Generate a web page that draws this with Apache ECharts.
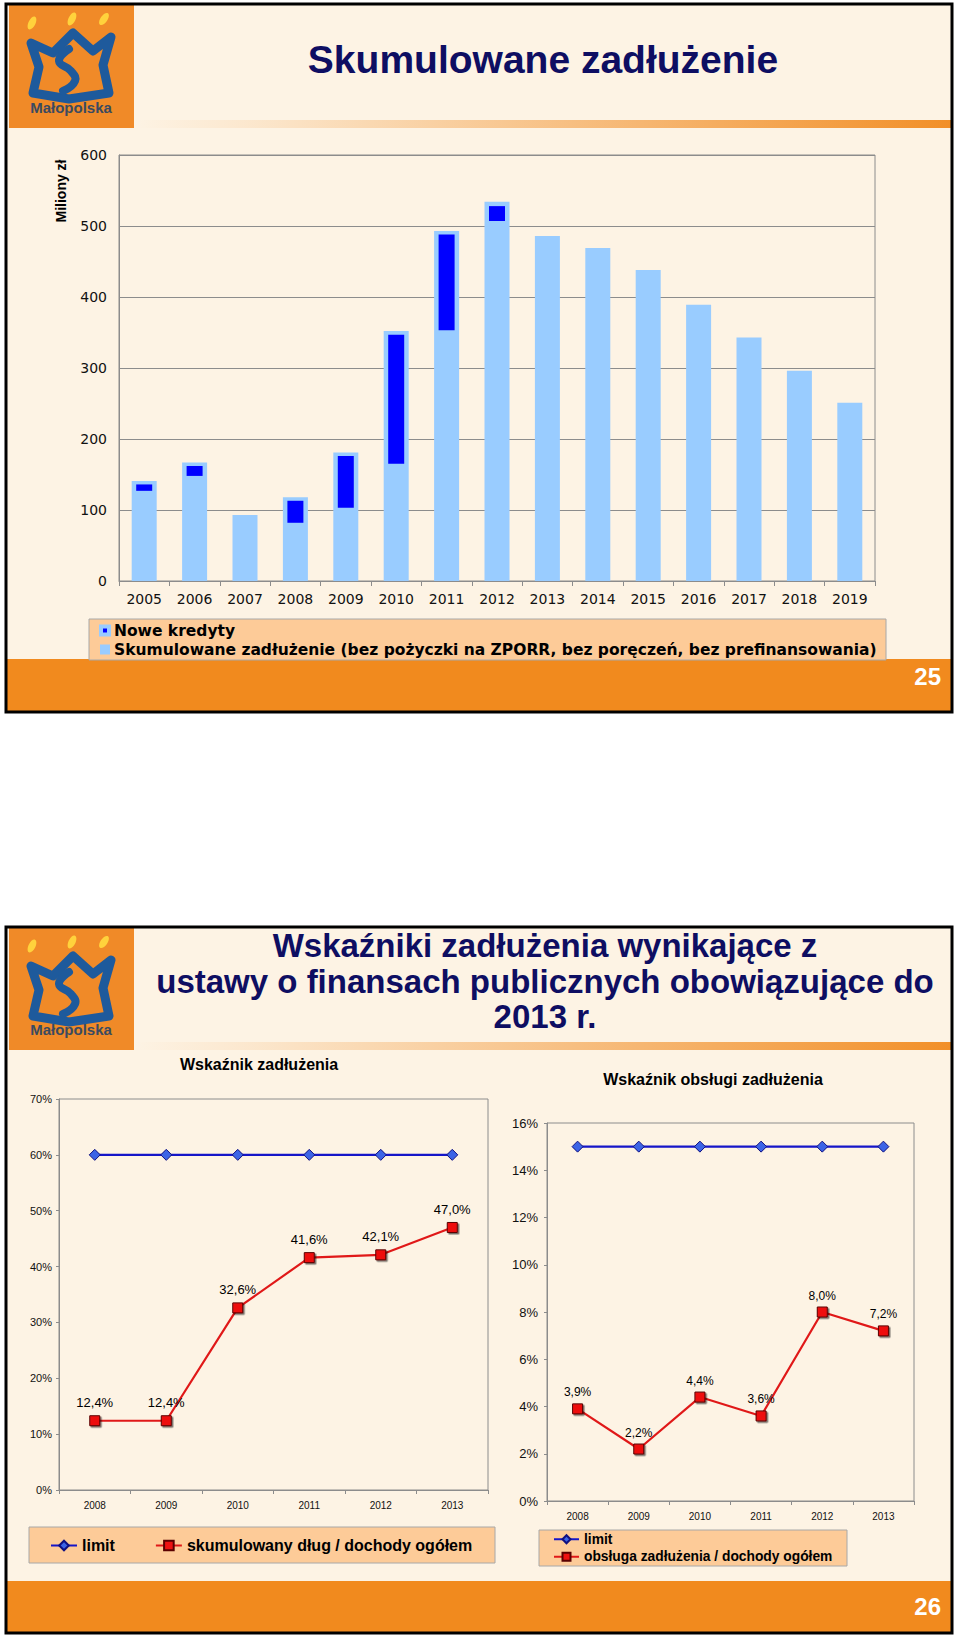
<!DOCTYPE html>
<html><head><meta charset="utf-8">
<script src="https://cdn.jsdelivr.net/npm/echarts/dist/echarts.min.js"></script>
<style>html,body{margin:0;padding:0;background:#fff;}#main{width:960px;height:1641px;}</style>
</head><body><div id="main"></div>
<script>
// ---------- data ----------
const lata = ['2005','2006','2007','2008','2009','2010','2011','2012','2013','2014','2015','2016','2017','2018','2019'];
const skumulowaneZadluzenie = [141,167,93,118,181,352,493,534,486,469,438,389,343,296,251];
const noweKredytyOd = [127,148,null,82,103,165,353,507,null,null,null,null,null,null,null];
const noweKredytyDo = [136,162,null,113,176,347,488,528,null,null,null,null,null,null,null];
const osMilionyTicks = [0,100,200,300,400,500,600];

const lataWskaznikow = ['2008','2009','2010','2011','2012','2013'];
const limitZadluzenia = [60,60,60,60,60,60];
const dlugDoDochodow = [12.4,12.4,32.6,41.6,42.1,47.0];
const osZadluzeniaTicks = [0,10,20,30,40,50,60,70];

const limitObslugi = [15,15,15,15,15,15];
const obslugaDoDochodow = [3.9,2.2,4.4,3.6,8.0,7.2];
const osObslugiTicks = [0,2,4,6,8,10,12,14,16];

const nazwaSkum = 'Skumulowane zadłużenie (bez pożyczki na ZPORR, bez poręczeń, bez prefinansowania)';
const nazwaNowe = 'Nowe kredyty';
const nazwaDlug = 'skumulowany dług / dochody ogółem';
const nazwaObsl = 'obsługa zadłużenia / dochody ogółem';

// ---------- style ----------
const CREAM = '#FDF3E4', ORANGE = '#F18A1E', NAVY = '#0E0E62', PEACH = '#FDCB98';
const GRAY = '#8C8C8C';
const ARIAL = '"Liberation Sans", Arial, sans-serif';
const VERD = '"DejaVu Sans", Verdana, sans-serif';

const chart = echarts.init(document.getElementById('main'), null, {renderer: 'svg'});

function logo(x0, y0, h) {
  return [
    {type:'rect', z:1, shape:{x:x0, y:y0, width:125, height:h}, style:{fill:'#F08A28'}},
    {type:'ellipse', z:2, x:x0+23, y:y0+18, rotation:-0.45, shape:{cx:0, cy:0, rx:3.5, ry:7}, style:{fill:'#FFD23C'}},
    {type:'ellipse', z:2, x:x0+63, y:y0+14, rotation:-0.45, shape:{cx:0, cy:0, rx:3.5, ry:7}, style:{fill:'#FFD23C'}},
    {type:'ellipse', z:2, x:x0+95, y:y0+14, rotation:-0.6, shape:{cx:0, cy:0, rx:3.5, ry:7}, style:{fill:'#FFD23C'}},
    {type:'polygon', z:2, x:x0, y:y0, shape:{points:[[22,38],[30,62],[24,88],[60,94],[100,88],[94,60],[102,32],[84,46],[64,28],[44,48]]},
      style:{fill:'none', stroke:'#1E5A9C', lineWidth:9, lineJoin:'round'}},
    {type:'polyline', z:2, x:x0, y:y0, shape:{points:[[60,44],[50,56],[62,66],[66,76],[54,86]], smooth:0.5},
      style:{fill:'none', stroke:'#1E5A9C', lineWidth:8, lineCap:'round'}},
    {type:'text', z:2, x:x0+62, y:y0+h-21, style:{text:'Małopolska', fill:'#3A4A60', font:'bold 15px ' + ARIAL, align:'center', verticalAlign:'middle'}}
  ];
}
function strip(y) {
  return {type:'rect', z:1, shape:{x:134, y:y, width:817, height:8},
    style:{fill:{type:'linear', x:0, y:0, x2:1, y2:0, colorStops:[{offset:0, color:'rgba(241,138,30,0)'},{offset:0.15, color:'rgba(241,138,30,0.12)'},{offset:1, color:'rgba(241,138,30,0.95)'}]}}};
}

const graphicEls = [
  // slide 1
  {type:'rect', z:-5, shape:{x:6, y:4, width:946, height:708}, style:{fill:CREAM}},
  {type:'rect', z:-4, shape:{x:7, y:659, width:944, height:52}, style:{fill:ORANGE}},
  strip(120),
  ...logo(9, 5, 123),
  {type:'text', z:3, x:543, y:59, style:{text:'Skumulowane zadłużenie', fill:NAVY, font:'bold 39px ' + ARIAL, align:'center', verticalAlign:'middle'}},
  {type:'text', z:3, x:941, y:676, style:{text:'25', fill:'#fff', font:'bold 24px ' + ARIAL, align:'right', verticalAlign:'middle'}},
  {type:'text', z:3, x:61, y:191, rotation:Math.PI/2, style:{text:'Miliony zł', fill:'#000', font:'bold 14px ' + ARIAL, align:'center', verticalAlign:'middle'}},
  {type:'rect', z:1, shape:{x:89, y:619, width:797, height:41}, style:{fill:PEACH, stroke:'#A8A8A8', lineWidth:1}},
  {type:'rect', z:10, shape:{x:6, y:4, width:946, height:708}, style:{fill:'none', stroke:'#000', lineWidth:3}},
  // slide 2
  {type:'rect', z:-5, shape:{x:6, y:927, width:946, height:706}, style:{fill:CREAM}},
  {type:'rect', z:-4, shape:{x:7, y:1581, width:944, height:51}, style:{fill:ORANGE}},
  strip(1042),
  ...logo(9, 928, 122),
  {type:'text', z:3, x:545, y:945, style:{text:'Wskaźniki zadłużenia wynikające z', fill:NAVY, font:'bold 33px ' + ARIAL, align:'center', verticalAlign:'middle'}},
  {type:'text', z:3, x:545, y:981, style:{text:'ustawy o finansach publicznych obowiązujące do', fill:NAVY, font:'bold 33px ' + ARIAL, align:'center', verticalAlign:'middle'}},
  {type:'text', z:3, x:545, y:1016, style:{text:'2013 r.', fill:NAVY, font:'bold 33px ' + ARIAL, align:'center', verticalAlign:'middle'}},
  {type:'text', z:3, x:259, y:1064, style:{text:'Wskaźnik zadłużenia', fill:'#000', font:'bold 16px ' + ARIAL, align:'center', verticalAlign:'middle'}},
  {type:'text', z:3, x:713, y:1079, style:{text:'Wskaźnik obsługi zadłużenia', fill:'#000', font:'bold 16px ' + ARIAL, align:'center', verticalAlign:'middle'}},
  {type:'text', z:3, x:941, y:1606, style:{text:'26', fill:'#fff', font:'bold 24px ' + ARIAL, align:'right', verticalAlign:'middle'}},
  {type:'rect', z:1, shape:{x:29, y:1527, width:466, height:36}, style:{fill:PEACH, stroke:'#A8A8A8', lineWidth:1}},
  {type:'rect', z:1, shape:{x:539, y:1530, width:308, height:36}, style:{fill:PEACH, stroke:'#A8A8A8', lineWidth:1}},
  {type:'rect', z:10, shape:{x:6, y:927, width:946, height:706}, style:{fill:'none', stroke:'#000', lineWidth:3}}
];

const pct = p => p.value.toFixed(1).replace('.', ',') + '%';
const axisLine = {show:true, lineStyle:{color:GRAY, width:1}};
const limitStyle = {
  symbol:'diamond', symbolSize:11,
  lineStyle:{color:'#1515C8', width:2.2},
  itemStyle:{color:'#3C64E6', borderColor:'#101080', borderWidth:1}
};
const redStyle = {
  symbol:'rect', symbolSize:10,
  lineStyle:{color:'#E01818', width:2.2},
  itemStyle:{color:'#EE1111', borderColor:'#5A0000', borderWidth:1,
    shadowColor:'rgba(0,0,0,0.55)', shadowOffsetX:1.5, shadowOffsetY:1.5, shadowBlur:0}
};

const option = {
  animation:false,
  textStyle:{fontFamily:ARIAL},
  graphic:{elements:graphicEls},
  grid:[
    {left:119, top:155, width:756, height:426, show:true, borderColor:GRAY, borderWidth:1, backgroundColor:'transparent', containLabel:false, outerBoundsMode:'none'},
    {left:59, top:1099, width:429, height:391, show:true, borderColor:GRAY, borderWidth:1, backgroundColor:'transparent', containLabel:false, outerBoundsMode:'none'},
    {left:547, top:1123, width:367, height:378, show:true, borderColor:GRAY, borderWidth:1, backgroundColor:'transparent', containLabel:false, outerBoundsMode:'none'}
  ],
  xAxis:[
    {gridIndex:0, type:'category', data:lata, boundaryGap:true, axisLine,
     axisTick:{show:true, alignWithLabel:false, length:5, lineStyle:{color:GRAY}},
     axisLabel:{fontFamily:VERD, fontSize:14, color:'#111', margin:11, interval:0}},
    {gridIndex:0, type:'category', data:lata, boundaryGap:true, show:false},
    {gridIndex:1, type:'category', data:lataWskaznikow, boundaryGap:true, axisLine,
     axisTick:{show:true, alignWithLabel:false, length:4, lineStyle:{color:GRAY}},
     axisLabel:{fontFamily:ARIAL, fontSize:10, color:'#111', margin:10, interval:0}},
    {gridIndex:2, type:'category', data:lataWskaznikow, boundaryGap:true, axisLine,
     axisTick:{show:true, alignWithLabel:false, length:4, lineStyle:{color:GRAY}},
     axisLabel:{fontFamily:ARIAL, fontSize:10, color:'#111', margin:10, interval:0}}
  ],
  yAxis:[
    {gridIndex:0, type:'value', min:osMilionyTicks[0], max:osMilionyTicks[osMilionyTicks.length-1], interval:osMilionyTicks[1]-osMilionyTicks[0],
     axisLine, axisTick:{show:false},
     axisLabel:{fontFamily:VERD, fontSize:14, color:'#111', margin:12},
     splitLine:{show:true, lineStyle:{color:GRAY, width:1}}},
    {gridIndex:1, type:'value', min:osZadluzeniaTicks[0], max:osZadluzeniaTicks[osZadluzeniaTicks.length-1], interval:osZadluzeniaTicks[1]-osZadluzeniaTicks[0],
     axisLine, axisTick:{show:true, length:3, lineStyle:{color:GRAY}},
     axisLabel:{fontFamily:ARIAL, fontSize:11, color:'#111', margin:7, formatter:'{value}%'},
     splitLine:{show:false}},
    {gridIndex:2, type:'value', min:osObslugiTicks[0], max:osObslugiTicks[osObslugiTicks.length-1], interval:osObslugiTicks[1]-osObslugiTicks[0],
     axisLine, axisTick:{show:true, length:3, lineStyle:{color:GRAY}},
     axisLabel:{fontFamily:ARIAL, fontSize:13, color:'#111', margin:9, formatter:'{value}%'},
     splitLine:{show:false}}
  ],
  legend:[
    {orient:'vertical', left:99, top:621, padding:0, itemWidth:8, itemHeight:8, itemGap:0, selectedMode:false, icon:'rect',
     textStyle:{fontFamily:VERD, fontWeight:'bold', fontSize:15.5, lineHeight:19, color:'#000'},
     data:[{name:nazwaNowe, itemStyle:{color:'#0000FF', borderColor:'#99CCFF', borderWidth:4}},
           {name:nazwaSkum, itemStyle:{color:'#99CCFF', borderColor:'#99CCFF', borderWidth:2}}]},
    {orient:'horizontal', left:50, top:1536, padding:0, itemWidth:26, itemHeight:12, itemGap:40, selectedMode:false,
     textStyle:{fontFamily:ARIAL, fontWeight:'bold', fontSize:16, lineHeight:19, color:'#000'},
     data:['limit', nazwaDlug]},
    {orient:'vertical', left:553, top:1531, padding:0, itemWidth:25, itemHeight:10, itemGap:1, selectedMode:false,
     textStyle:{fontFamily:ARIAL, fontWeight:'bold', fontSize:13.8, lineHeight:16.5, color:'#000'},
     data:['limit', nazwaObsl]}
  ],
  series:[
    {name:nazwaSkum, type:'bar', xAxisIndex:0, yAxisIndex:0, barWidth:25, data:skumulowaneZadluzenie,
     itemStyle:{color:'#99CCFF'}, z:2},
    {name:'_podstawa', type:'bar', xAxisIndex:1, yAxisIndex:0, stack:'nk', barWidth:16, data:noweKredytyOd,
     itemStyle:{color:'rgba(0,0,0,0)'}, silent:true, z:3},
    {name:nazwaNowe, type:'bar', xAxisIndex:1, yAxisIndex:0, stack:'nk', barWidth:16,
     data:noweKredytyDo.map((v, i) => v == null ? null : v - noweKredytyOd[i]),
     itemStyle:{color:'#0000FF'}, z:3},
    Object.assign({name:'limit', type:'line', xAxisIndex:2, yAxisIndex:1, data:limitZadluzenia, z:4}, limitStyle),
    Object.assign({name:nazwaDlug, type:'line', xAxisIndex:2, yAxisIndex:1, data:dlugDoDochodow, z:5,
      label:{show:true, position:'top', distance:6, formatter:pct, fontFamily:ARIAL, fontSize:13, color:'#000'}}, redStyle),
    Object.assign({name:'limit', type:'line', xAxisIndex:3, yAxisIndex:2, data:limitObslugi, z:4}, limitStyle),
    Object.assign({name:nazwaObsl, type:'line', xAxisIndex:3, yAxisIndex:2, data:obslugaDoDochodow, z:5,
      label:{show:true, position:'top', distance:5, formatter:pct, fontFamily:ARIAL, fontSize:12, color:'#000'}}, redStyle)
  ]
};
chart.setOption(option);
</script>
</body></html>
